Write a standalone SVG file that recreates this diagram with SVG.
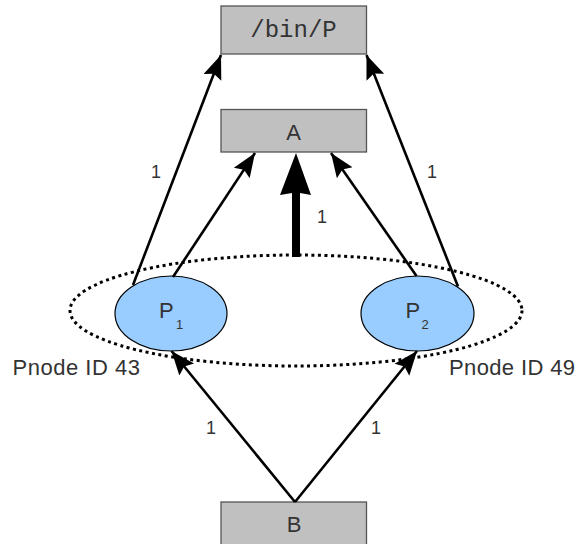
<svg xmlns="http://www.w3.org/2000/svg" width="585" height="544" viewBox="0 0 585 544">
<defs>
<marker id="ah" markerUnits="userSpaceOnUse" markerWidth="26" markerHeight="22" viewBox="0 -11 26 22" refX="24" refY="0" orient="auto">
<path d="M0,-9.5 L24,0 L0,9.5 L4,0 Z" fill="#000"/>
</marker>
</defs>
<style>
.box{fill:#c0c0c0;stroke:#555;stroke-width:1.3}
.proc{fill:#99ccff;stroke:#000;stroke-width:1.2}
.t{font-family:"Liberation Sans",Arial,sans-serif;fill:#333;text-anchor:middle}
.lbl{font-family:"Liberation Sans",Arial,sans-serif;fill:#333;font-size:18px;text-anchor:middle}
.edge{stroke:#000;stroke-width:2.6;fill:none;marker-end:url(#ah)}
.pn{font-family:"Liberation Sans",Arial,sans-serif;fill:#333;font-size:22px}
</style>
<g id="group">
<ellipse cx="296" cy="310.5" rx="226" ry="55.5" fill="none" stroke="#000" stroke-width="3" stroke-dasharray="3,3.5"/>
</g>
<g id="binP">
<rect class="box" x="221" y="6" width="145.5" height="48"/>
<text x="293.5" y="37" style="font-family:'Liberation Mono','Courier New',monospace;font-size:24px;fill:#333;text-anchor:middle">/bin/P</text>
</g>
<g id="A">
<rect class="box" x="221" y="109.5" width="145.5" height="42.5"/>
<text class="t" x="293.5" y="140" font-size="22">A</text>
</g>
<g id="B">
<rect class="box" x="221" y="502" width="145.5" height="48"/>
<text class="t" x="294" y="532" font-size="22">B</text>
</g>
<g id="P1">
<ellipse class="proc" cx="171" cy="313.5" rx="56" ry="37.5"/>
<text x="159" y="317.5" class="pn">P<tspan x="176" y="328.5" font-size="13">1</tspan></text>
</g>
<g id="P2">
<ellipse class="proc" cx="417.5" cy="313.5" rx="56.5" ry="37.5"/>
<text x="405.5" y="317.5" class="pn">P<tspan x="421.5" y="328.5" font-size="13">2</tspan></text>
</g>
<g id="connectors">
<line class="edge" x1="133" y1="285" x2="221" y2="55"/>
<line class="edge" x1="173" y1="277" x2="255" y2="153"/>
<line class="edge" x1="416.5" y1="276" x2="331" y2="153"/>
<line class="edge" x1="458" y1="286.5" x2="366.5" y2="55"/>
<path d="M292,257 L292,193 L280,195 L296,153 L311,195 L300,193 L300,257 Z" fill="#000"/>
<line class="edge" x1="295" y1="502" x2="171.5" y2="351"/>
<line class="edge" x1="295" y1="502" x2="417" y2="351"/>
</g>
<g id="labels">
<text class="lbl" x="156" y="178">1</text>
<text class="lbl" x="432" y="178">1</text>
<text class="lbl" x="322" y="223">1</text>
<text class="lbl" x="211" y="434">1</text>
<text class="lbl" x="376" y="434">1</text>
<text x="12.5" y="375" class="pn" textLength="127.5" lengthAdjust="spacing">Pnode ID 43</text>
<text x="449" y="375" class="pn" textLength="126" lengthAdjust="spacing">Pnode ID 49</text>
</g>
</svg>
